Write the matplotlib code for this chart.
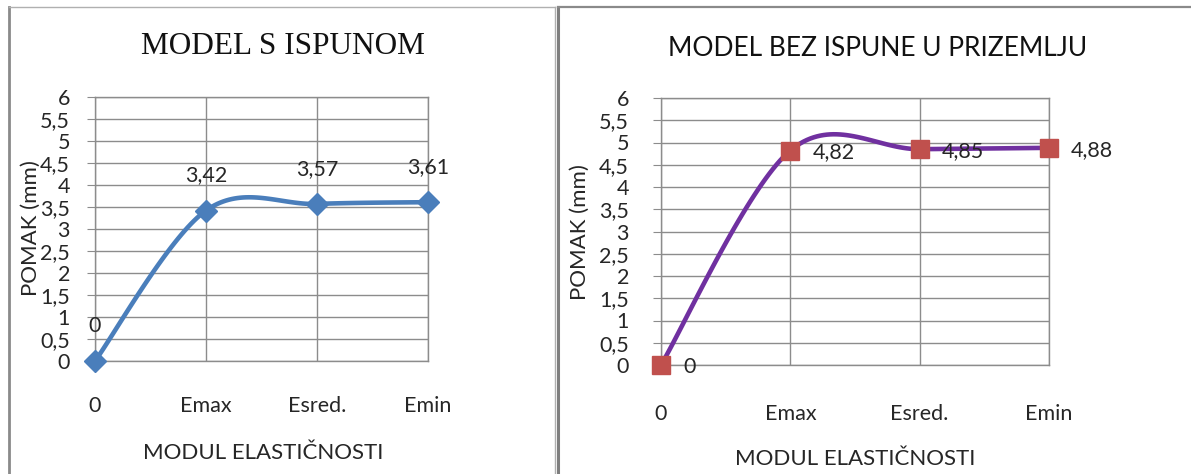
import numpy as np
import matplotlib.pyplot as plt
from matplotlib.lines import Line2D

# --- podaci ---
kategorije = ['0', 'Emax', 'Esred.', 'Emin']
pomak_s_ispunom = [0, 3.42, 3.57, 3.61]
pomak_bez_ispune = [0, 4.82, 4.85, 4.88]
oznake_s_ispunom = ['0', '3,42', '3,57', '3,61']
oznake_bez_ispune = ['0', '4,82', '4,85', '4,88']
y_ticks = [0, 0.5, 1, 1.5, 2, 2.5, 3, 3.5, 4, 4.5, 5, 5.5, 6]
y_tick_labels = ['0', '0,5', '1', '1,5', '2', '2,5', '3', '3,5', '4', '4,5', '5', '5,5', '6']

SANS = ['Lato', 'DejaVu Sans']
GRID = '#8c8c8c'
TXT = '#262626'
FS = 15.5


def smooth(x, y, n=40):
    """Excel-like smoothed line (Catmull-Rom bezier)"""
    x = np.asarray(x, float)
    y = np.asarray(y, float)
    pts = np.column_stack([x, y])
    out = []
    for i in range(len(pts) - 1):
        p0 = pts[i - 1] if i > 0 else pts[i]
        p1 = pts[i]
        p2 = pts[i + 1]
        p3 = pts[i + 2] if i + 2 < len(pts) else pts[i + 1]
        c1 = p1 + (p2 - p0) / 6
        c2 = p2 - (p3 - p1) / 6
        t = np.linspace(0, 1, n)[:, None]
        seg = ((1 - t) ** 3) * p1 + 3 * ((1 - t) ** 2) * t * c1 + 3 * (1 - t) * t ** 2 * c2 + t ** 3 * p2
        out.append(seg if i == 0 else seg[1:])
    out = np.vstack(out)
    return out[:, 0], out[:, 1]


def setup_axes(ax, xpad, ypad):
    ax.set_xlim(0, 3)
    ax.set_ylim(0, 6)
    ax.set_yticks(y_ticks)
    ax.set_yticklabels(y_tick_labels, family=SANS, fontsize=FS, color=TXT)
    ax.set_xticks(range(len(kategorije)))
    ax.set_xticklabels(kategorije, family=SANS, fontsize=FS, color=TXT)
    ax.grid(True, color=GRID, linewidth=1)
    ax.set_axisbelow(True)
    for s in ax.spines.values():
        s.set_color(GRID)
        s.set_linewidth(1)
    ax.tick_params(axis='y', length=6, color=GRID, pad=ypad)
    ax.tick_params(axis='x', length=0, pad=xpad)


fig = plt.figure(figsize=(11.91, 4.74), dpi=100)

# --- okviri ---
fig.add_artist(Line2D([9 / 1191, 9 / 1191], [0, 1 - 7 / 474], color='#8a8a8a', linewidth=2))
fig.add_artist(Line2D([9 / 1191, 555 / 1191], [1 - 7 / 474, 1 - 7 / 474], color='#b0b0b0', linewidth=1))
fig.add_artist(Line2D([555 / 1191, 555 / 1191], [0, 1 - 7 / 474], color='#b0b0b0', linewidth=1))
fig.add_artist(Line2D([558 / 1191, 558 / 1191], [0, 1 - 7 / 474], color='#7f7f7f', linewidth=2.2))
fig.add_artist(Line2D([558 / 1191, 1], [1 - 7 / 474, 1 - 7 / 474], color='#8a8a8a', linewidth=1.6))

# --- lijevi graf ---
ax1 = fig.add_axes([95 / 1191, 1 - 361 / 474, 333 / 1191, 264 / 474])
setup_axes(ax1, 25, 12)
xs, ys = smooth(range(len(kategorije)), pomak_s_ispunom)
ax1.plot(xs, ys, color='#4a7ebb', linewidth=3.3, clip_on=False, solid_capstyle='round')
ax1.plot(range(len(kategorije)), pomak_s_ispunom, linestyle='none', marker='D', markersize=11,
         color='#4a7ebb', clip_on=False, zorder=5)
for i, (v, t) in enumerate(zip(pomak_s_ispunom, oznake_s_ispunom)):
    ax1.annotate(t, (i, v), xytext=(0, 35), textcoords='offset pixels', ha='center', va='center',
                 family=SANS, fontsize=FS, color=TXT)
fig.text(283 / 1191, 1 - 47 / 474, 'MODEL S ISPUNOM', family=['Liberation Serif', 'DejaVu Serif'],
         fontsize=22.5, color='#111111', ha='center', va='center')
fig.text(31 / 1191, 1 - 228 / 474, 'POMAK (mm)', family=SANS, fontsize=16, color=TXT,
         rotation=90, ha='center', va='center')
fig.text(263 / 1191, 1 - 453 / 474, 'MODUL ELASTIČNOSTI', family=SANS, fontsize=16, color=TXT,
         ha='center', va='center')

# --- desni graf ---
ax2 = fig.add_axes([661 / 1191, 1 - 365 / 474, 388 / 1191, 267 / 474])
setup_axes(ax2, 28, 17)
xs, ys = smooth(range(len(kategorije)), pomak_bez_ispune)
ax2.plot(xs, ys, color='#7030a0', linewidth=3.3, clip_on=False, solid_capstyle='round')
ax2.plot(range(len(kategorije)), pomak_bez_ispune, linestyle='none', marker='s', markersize=13.5,
         color='#c0504d', clip_on=False, zorder=5)
for i, (v, t) in enumerate(zip(pomak_bez_ispune, oznake_bez_ispune)):
    ax2.annotate(t, (i, v), xytext=(22, -2), textcoords='offset pixels', ha='left', va='center',
                 family=SANS, fontsize=FS, color=TXT)
fig.text(878 / 1191, 1 - 48 / 474, 'MODEL BEZ ISPUNE U PRIZEMLJU', family=SANS,
         fontsize=19, color='#111111', ha='center', va='center')
fig.text(580 / 1191, 1 - 232 / 474, 'POMAK (mm)', family=SANS, fontsize=16, color=TXT,
         rotation=90, ha='center', va='center')
fig.text(855 / 1191, 1 - 459 / 474, 'MODUL ELASTIČNOSTI', family=SANS, fontsize=16, color=TXT,
         ha='center', va='center')

fig.savefig('out.png', dpi=100, facecolor='white')
